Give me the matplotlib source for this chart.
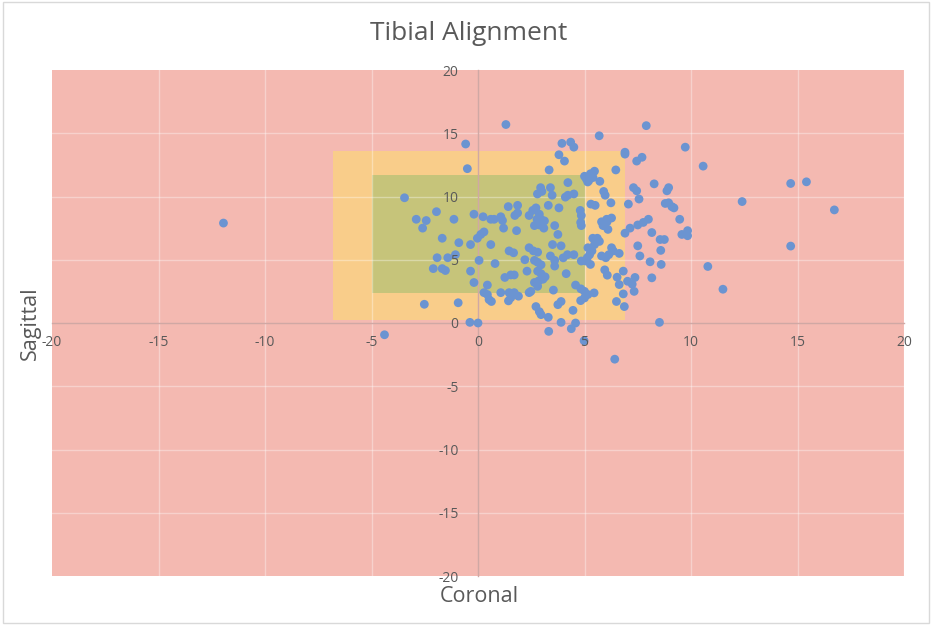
import matplotlib
matplotlib.use("Agg")
import matplotlib.pyplot as plt
from matplotlib.patches import Rectangle

plt.rcParams["axes.unicode_minus"] = False

title = "Tibial Alignment"
xlabel = "Coronal"
ylabel = "Sagittal"
ticks = [-20, -15, -10, -5, 0, 5, 10, 15, 20]

# zones: (x0, x1, y0, y1)
outer_zone = (-6.8, 6.9, 0.2, 13.6)
inner_zone = (-5.0, 5.0, 2.4, 11.7)

pts = [
    (1.31, 15.69), (-0.58, 14.15), (-0.5, 12.2), (3.94, 14.2), (4.35, 14.3), (4.5, 13.9), (3.8, 13.3),
    (4.06, 12.8), (3.34, 12.1), (5.69, 14.8), (7.9, 15.6), (6.9, 13.5), (6.9, 13.35), (7.45, 12.8),
    (7.7, 13.1), (6.47, 12.1),
    (-3.45, 9.9), (4.22, 11.1), (5.0, 11.6), (5.08, 11.4), (5.15, 11.15), (5.28, 11.8), (5.47, 12.0),
    (5.4, 11.5), (5.2, 11.25), (5.72, 11.2), (5.9, 10.4), (5.97, 10.1), (6.24, 9.5), (7.06, 9.4),
    (7.3, 10.7), (7.45, 10.45), (7.56, 9.8),
    (2.94, 10.7), (2.79, 10.2), (3.0, 10.4), (3.4, 10.7), (3.48, 10.1), (4.22, 10.1), (4.5, 10.2),
    (4.1, 9.95), (3.3, 9.3), (3.8, 9.1), (4.8, 8.9), (4.85, 8.5), (4.85, 7.7), (4.82, 7.95), (5.3, 9.4),
    (5.5, 9.3),
    (1.42, 9.2), (1.86, 9.3), (1.86, 8.7), (1.73, 8.5),
    (2.57, 8.9), (2.72, 9.1), (2.4, 8.5), (2.77, 8.2), (2.96, 8.2), (2.88, 8.6), (3.12, 8.07),
    (2.65, 7.7), (2.88, 7.75), (3.09, 7.5),
    (-1.95, 8.8), (-2.9, 8.2), (-2.43, 8.1), (-2.6, 7.5), (-1.13, 8.2), (-0.19, 8.6), (0.24, 8.4),
    (0.6, 8.2), (0.76, 8.2), (1.07, 8.4), (1.15, 8.1), (1.2, 7.5), (1.81, 7.3), (3.6, 7.7), (3.75, 7.0),
    (5.8, 8.0), (6.04, 8.2), (6.27, 8.3), (5.87, 7.7), (6.1, 7.4), (6.06, 8.0),
    (5.39, 6.7), (5.55, 6.45), (5.47, 6.2), (5.16, 5.95), (5.35, 5.7), (5.24, 5.4), (5.13, 5.16),
    (5.28, 4.63), (5.06, 4.9), (5.6, 6.7), (5.7, 6.45),
    (5.8, 5.3), (6.0, 5.16), (6.14, 5.4), (6.27, 5.95), (6.35, 5.7), (6.63, 5.5),
    (6.9, 7.1), (7.14, 7.5), (7.5, 7.75), (7.76, 7.95), (8.0, 8.2), (7.5, 6.1), (7.6, 5.3),
    (-1.68, 6.7), (-0.9, 6.35), (-1.06, 5.4), (-0.35, 6.2), (-0.03, 6.7), (0.13, 7.0), (0.28, 7.2),
    (0.6, 6.2),
    (-1.92, 5.16), (-1.42, 5.16), (-2.1, 4.3), (-1.68, 4.3), (-1.53, 4.15), (-0.35, 4.1), (0.05, 4.95),
    (0.8, 4.7), (-0.19, 3.2), (0.44, 3.0),
    (1.46, 5.7), (1.67, 5.55), (2.2, 5.0), (2.4, 5.95), (2.6, 5.7), (2.8, 5.6), (3.5, 6.2), (3.9, 6.1),
    (3.4, 5.3), (3.6, 4.95), (3.6, 4.5), (4.0, 5.15), (4.2, 5.4), (4.5, 5.4), (4.85, 4.9), (2.65, 4.95),
    (2.8, 4.8), (2.96, 4.6),
    (2.3, 4.1), (2.8, 4.1), (2.96, 3.9), (3.15, 3.65), (2.65, 3.2), (2.85, 3.33), (3.05, 3.46),
    (2.8, 2.9), (2.48, 2.5), (2.4, 2.4),
    (1.26, 3.6), (1.54, 3.8), (1.7, 3.8), (4.14, 3.9), (3.54, 2.6), (4.58, 3.0),
    (1.07, 2.4), (1.46, 2.4), (1.54, 2.0), (1.43, 1.75), (1.7, 2.4), (1.9, 2.12),
    (0.28, 2.4), (0.44, 2.25), (0.52, 1.85), (0.63, 1.7),
    (-2.52, 1.48), (-0.93, 1.6),
    (4.83, 2.7), (5.0, 2.5), (5.45, 2.38), (5.16, 2.25), (4.82, 1.77), (5.0, 1.98),
    (5.95, 4.2), (6.07, 3.78), (6.53, 3.62), (6.82, 4.1), (6.63, 3.04), (6.82, 2.3), (7.02, 3.3),
    (7.24, 3.07), (7.33, 2.5), (7.37, 3.6),
    (6.5, 1.7), (6.87, 1.3),
    (2.72, 1.3), (2.88, 0.9), (2.96, 0.66), (3.3, 0.45), (3.75, 1.45), (3.9, 1.7), (4.46, 1.0),
    (3.9, 0.05), (3.32, -0.66), (4.38, -0.45), (4.58, 0.0), (-0.38, 0.05), (0.0, 0.0), (-4.39, -0.93),
    (4.98, -1.4), (6.42, -2.86),
    (9.73, 13.9), (10.57, 12.4), (8.27, 11.0), (8.95, 10.7), (8.87, 10.45), (8.79, 9.45), (8.95, 9.5),
    (9.2, 9.1), (9.1, 9.2), (9.47, 8.2), (8.16, 7.15), (8.55, 6.6), (8.75, 6.6), (9.57, 7.0),
    (9.84, 7.3), (9.84, 6.9), (8.58, 5.74), (8.08, 4.84), (8.6, 4.63), (10.79, 4.47), (14.68, 11.03),
    (15.42, 11.16), (12.4, 9.6), (16.73, 8.94), (14.68, 6.08), (11.5, 2.67), (8.16, 3.57), (8.52, 0.05),
    (-11.95, 7.9),
]
coronal = [p[0] for p in pts]
sagittal = [p[1] for p in pts]

FONT = ["Open Sans", "DejaVu Sans"]
TXT = "#595959"

fig = plt.figure(figsize=(9.32, 6.25), dpi=100)
fig.patches.append(Rectangle((0.003, 0.003), 0.994, 0.994, transform=fig.transFigure,
                             fill=False, edgecolor="#D9D9D9", linewidth=1.0))
ax = fig.add_axes([52 / 932, 1 - 576 / 625, 852 / 932, 506 / 625])
ax.set_facecolor("#F4B9B1")
ax.set_xlim(-20, 20)
ax.set_ylim(-20, 20)

x0, x1, y0, y1 = outer_zone
ax.add_patch(Rectangle((x0, y0), x1 - x0, y1 - y0, facecolor="#F9CD8A", edgecolor="none", zorder=0.5))
x0, x1, y0, y1 = inner_zone
ax.add_patch(Rectangle((x0, y0), x1 - x0, y1 - y0, facecolor="#C6C47A", edgecolor="none", zorder=0.6))

ax.set_xticks(ticks)
ax.set_yticks(ticks)
for t in ticks:
    if t not in (-20, 0):
        ax.axvline(t, color="#FFFFFF", alpha=0.35, linewidth=1.0, zorder=0.8)
    if t not in (-20, 0, 20):
        ax.axhline(t, color="#FFFFFF", alpha=0.35, linewidth=1.0, zorder=0.8)

for s in ["top", "right"]:
    ax.spines[s].set_visible(False)
ax.spines["left"].set_position(("data", 0))
ax.spines["bottom"].set_position(("data", 0))
for s in ["left", "bottom"]:
    ax.spines[s].set_color("#D0A8A4")
    ax.spines[s].set_linewidth(1.0)
    ax.spines[s].set_zorder(0.9)

ax.xaxis.set_zorder(4)
ax.yaxis.set_zorder(4)
ax.tick_params(length=0, labelsize=10, labelcolor=TXT, pad=9)
ax.tick_params(axis="y", pad=14)
for lab in ax.get_xticklabels() + ax.get_yticklabels():
    lab.set_family(FONT)

ax.scatter(coronal, sagittal, s=40, color="#6B94D1", edgecolors="none", zorder=3, clip_on=False)

fig.text(469 / 932, 1 - 33 / 625, title, ha="center", va="center", fontsize=19, color=TXT, family=FONT)
fig.text(479 / 932, 1 - 596 / 625, xlabel, ha="center", va="center", fontsize=15.5, color=TXT, family=FONT)
fig.text(30 / 932, 1 - 323 / 625, ylabel, ha="center", va="center", fontsize=15.5, color=TXT,
         family=FONT, rotation=90)

fig.savefig("out.png", dpi=100)
